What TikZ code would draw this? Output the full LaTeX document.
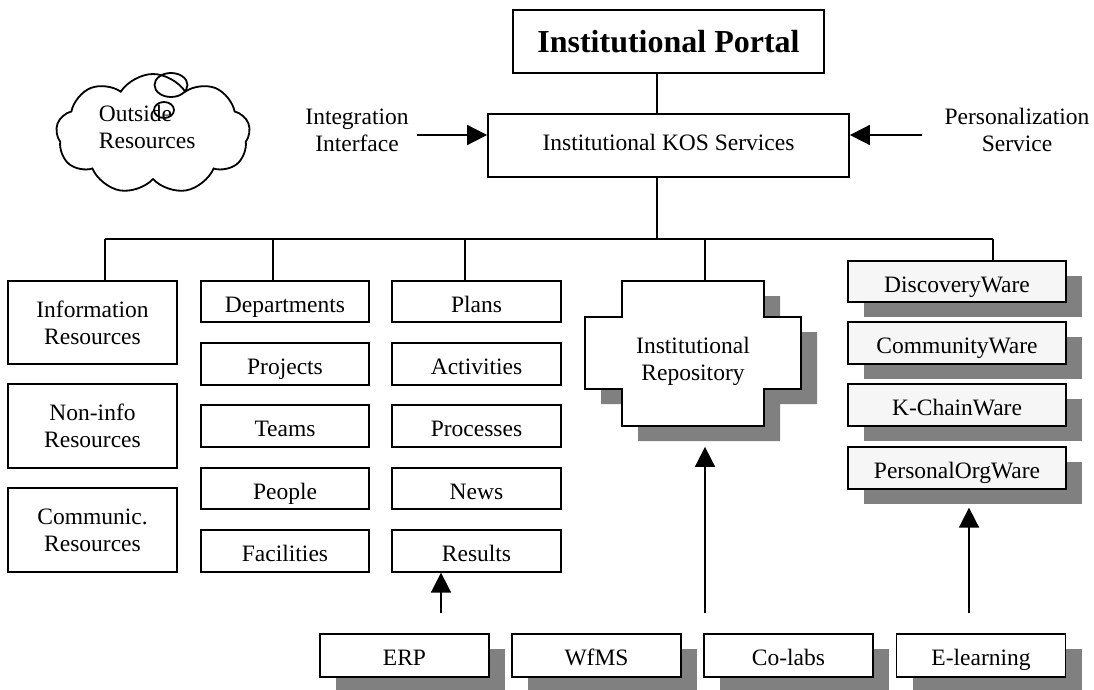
\documentclass[tikz,border=0pt]{standalone}
\usepackage{fontspec}
\setmainfont{Liberation Serif}
\usetikzlibrary{arrows.meta,shapes.symbols,shadows,calc}
\definecolor{shadowgray}{HTML}{808080}
\definecolor{boxgray}{HTML}{F6F6F6}
\newcommand\repoOutline{(622,281) -- (764,281) -- (764,317) -- (801,317) -- (801,389) -- (764,389) -- (764,426) -- (622,426) -- (622,389) -- (585,389) -- (585,317) -- (622,317) -- cycle}
\begin{document}
\begin{tikzpicture}[x=1pt,y=-1pt, line width=1.8pt,
  every node/.style={font=\fontsize{23.5}{27}\selectfont},
  box/.style={draw, fill=white, inner sep=0pt, align=center},
  one/.style={text height=21pt, text depth=0pt},
  col/.style={box, one, minimum width=168pt, minimum height=41.5pt},
  big/.style={box, minimum width=169pt, minimum height=83.5pt},
  shad/.style={drop shadow={shadow xshift=16pt, shadow yshift=-15pt, fill=shadowgray, opacity=1}},
  wbox/.style={box, one, fill=boxgray, minimum width=218pt, minimum height=41.5pt, shad},
  bbox/.style={box, text height=19pt, text depth=0pt, minimum width=169pt, minimum height=43pt, shad},
  arr/.style={-{Triangle[length=20pt,width=20pt]}},
  lbl/.style={align=center, inner sep=0pt}
]
\useasboundingbox (0,0) rectangle (1094,690);

% top
\node[box, font=\bfseries\fontsize{32}{36}\selectfont, minimum width=311pt, minimum height=63pt] (portal) at (668.5,41.5) {Institutional Portal};
\node[box, minimum width=361pt, minimum height=63pt] (kos) at (668.5,145.5) {\raisebox{7pt}{Institutional KOS Services}};
\node[lbl] (integ) at (357,130) {Integration\\Interface};
\node[lbl] (pers) at (1017,130) {Personalization\\Service};

% cloud
\node[cloud, draw, cloud puffs=9, cloud puff arc=115, aspect=1.7, inner sep=0pt, minimum width=194pt, minimum height=120pt] (cloud) at (153,134) {};
\draw (171,85) ellipse [x radius=16.5, y radius=12];
\draw (164,110) ellipse [x radius=10, y radius=8];
\node[lbl, align=left, anchor=west] (outside) at (98,127) {Outside\\Resources};

% left column
\node[big] (info) at (92.5,322.5) {Information\\Resources};
\node[big] (noninfo) at (92.5,426) {Non-info\\Resources};
\node[big] (comm) at (92.5,530) {Communic.\\Resources};

% departments column
\node[col] (dep) at (285,301.5) {Departments};
\node[col] (proj) at (285,364) {Projects};
\node[col] (teams) at (285,426) {Teams};
\node[col] (people) at (285,488.5) {People};
\node[col] (fac) at (285,551) {Facilities};

% plans column
\node[col, minimum width=169pt] (plans) at (476.5,301.5) {Plans};
\node[col, minimum width=169pt] (act) at (476.5,364) {Activities};
\node[col, minimum width=169pt] (proc) at (476.5,426) {Processes};
\node[col, minimum width=169pt] (news) at (476.5,488.5) {News};
\node[col, minimum width=169pt] (results) at (476.5,551) {Results};

% repository
\fill[shadowgray, shift={(16,15)}] \repoOutline;
\draw[fill=white] \repoOutline;
\node[lbl, minimum width=216pt, minimum height=161pt] (repo) at (693,361.5) {Institutional\\Repository};

% right column
\node[wbox] (disc) at (957,281.5) {DiscoveryWare};
\node[wbox] (commw) at (957,343) {CommunityWare};
\node[wbox] (kchain) at (957,405) {K-ChainWare};
\node[wbox] (pow) at (957,468) {PersonalOrgWare};

% bottom
\node[bbox] (erp) at (404.5,655.5) {ERP};
\node[bbox] (wfms) at (596.5,655.5) {WfMS};
\node[bbox] (colabs) at (788.5,655.5) {Co-labs};
\node[bbox] (elearn) at (981,655.5) {E-learning};

% bus
\coordinate (jk) at (657,239);
\coordinate (b1) at (105,239);
\coordinate (b2) at (273,239);
\coordinate (b3) at (465,239);
\coordinate (b4) at (705,239);
\coordinate (b5) at (993,239);
\draw (portal.south -| jk) -- (kos.north -| jk);
\draw (kos.south -| jk) -- (jk);
\draw (b1) -- (b5);
\draw (b1) -- (b1 |- info.north);
\draw (b2) -- (b2 |- dep.north);
\draw (b3) -- (b3 |- plans.north);
\draw (b4) -- (b4 |- repo.north);
\draw (b5) -- (b5 |- disc.north);

% arrows
\coordinate (ia) at (417,135);
\coordinate (pa) at (922,135);
\coordinate (ea) at (441,613);
\coordinate (ca) at (705,613);
\coordinate (la) at (969,613);
\draw[arr] (ia) -- (ia -| kos.west);
\draw[arr] (pa) -- (pa -| kos.east);
\draw[arr] (ea) -- (ea |- results.south);
\draw[arr] (ca) -- ($(ca |- repo.south)+(0,4)$);
\draw[arr] (la) -- ($(la |- pow.south)+(0,18)$);
\end{tikzpicture}
\end{document}
